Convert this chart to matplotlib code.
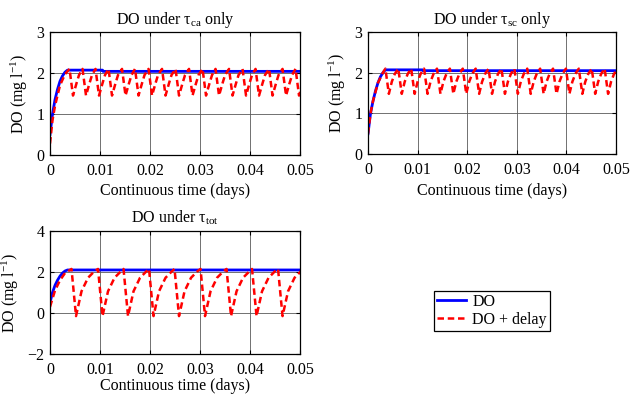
import matplotlib
matplotlib.use('Agg')
import matplotlib.pyplot as plt
from matplotlib.ticker import FuncFormatter

plt.rcParams['font.family'] = ['Liberation Serif', 'DejaVu Serif']
plt.rcParams['mathtext.fontset'] = 'custom'
plt.rcParams['mathtext.rm'] = 'Liberation Serif'
plt.rcParams['font.size'] = 11.5

# ---- tau_ca only ----
ca_do_t = [0, 0.0005, 0.001, 0.0015, 0.002, 0.0025, 0.003, 0.0035, 0.0105, 0.0106, 0.05]
ca_do_v = [0.5, 1.0, 1.35, 1.6, 1.8, 1.93, 2.02, 2.07, 2.07, 2.04, 2.04]
ca_start_t = [0, 0.0005, 0.001, 0.002, 0.003]
ca_start_v = [0.28, 0.85, 1.2, 1.7, 1.97]
ca_peaks = [0.0039, 0.0065, 0.0091, 0.0117, 0.0144, 0.0170, 0.0197, 0.0224, 0.0251,
            0.0278, 0.0305, 0.0331, 0.0358, 0.0385, 0.0411, 0.0438, 0.0465, 0.0491]
ca_cycle_dt = [0, 0.0007, 0.0014, 0.0019]
ca_cycle_v = [2.1, 1.45, 1.75, 1.95]

# ---- tau_sc only ----
sc_do_t = [0, 0.0005, 0.001, 0.0015, 0.002, 0.0025, 0.003, 0.0035, 0.011, 0.0111, 0.05]
sc_do_v = [0.5, 1.0, 1.3, 1.55, 1.75, 1.9, 2.0, 2.07, 2.07, 2.05, 2.05]
sc_start_t = [0, 0.0005, 0.001, 0.002, 0.003]
sc_start_v = [0.5, 1.0, 1.3, 1.75, 2.0]
sc_peaks = [0.0035, 0.0061, 0.0087, 0.0113, 0.0139, 0.0165, 0.0191, 0.0217, 0.0243,
            0.0269, 0.0295, 0.0321, 0.0347, 0.0373, 0.0399, 0.0425, 0.0451, 0.0477, 0.0503]
sc_cycle_dt = [0, 0.0007, 0.0013, 0.0019]
sc_cycle_v = [2.1, 1.48, 1.78, 1.97]

# ---- tau_tot ----
tot_do_t = [0, 0.0005, 0.001, 0.0015, 0.002, 0.0025, 0.003, 0.0035, 0.05]
tot_do_v = [0.5, 1.0, 1.35, 1.6, 1.8, 1.95, 2.05, 2.1, 2.1]
tot_start_t = [0, 0.001, 0.002, 0.003]
tot_start_v = [0.3, 1.1, 1.6, 1.95]
tot_peaks = [0.0043, 0.0096, 0.0147, 0.0198, 0.0249, 0.0301, 0.0353, 0.0404, 0.0456, 0.0508]
tot_cycle_dt = [0, 0.0009, 0.002, 0.0033, 0.0046]
tot_cycle_v = [2.15, -0.15, 1.06, 1.72, 2.04]


def delay_curve(start_t, start_v, peaks, dt, vals):
    t = list(start_t)
    v = list(start_v)
    for p in peaks:
        for d, y in zip(dt, vals):
            t.append(p + d)
            v.append(y)
    return t, v


def fmt(x, pos):
    if abs(x) < 1e-12:
        return '0'
    return ('%g' % x).replace('-', '\u2212')


fig = plt.figure(figsize=(6.33, 3.96), dpi=100)
ax1 = fig.add_axes([0.079, 0.6086, 0.395, 0.3106])
ax2 = fig.add_axes([0.5814, 0.6111, 0.3918, 0.308])
ax3 = fig.add_axes([0.079, 0.106, 0.395, 0.3106])

panels = [
    (ax1, ca_do_t, ca_do_v, delay_curve(ca_start_t, ca_start_v, ca_peaks, ca_cycle_dt, ca_cycle_v),
     r'DO under $\mathregular{\tau_{ca}}$ only', (0, 3), [0, 1, 2, 3], 3),
    (ax2, sc_do_t, sc_do_v, delay_curve(sc_start_t, sc_start_v, sc_peaks, sc_cycle_dt, sc_cycle_v),
     r'DO under $\mathregular{\tau_{sc}}$ only', (0, 3), [0, 1, 2, 3], 3),
    (ax3, tot_do_t, tot_do_v, delay_curve(tot_start_t, tot_start_v, tot_peaks, tot_cycle_dt, tot_cycle_v),
     r'DO under $\mathregular{\tau_{tot}}$', (-2, 4), [-2, 0, 2, 4], 0),
]

for ax, bt, bv, (rt, rv), title, ylim, yticks, xpad in panels:
    l1, = ax.plot(bt, bv, color='#0000ff', lw=2, label='DO')
    l2, = ax.plot(rt, rv, color='#ff0000', lw=1.8, dashes=(2.6, 1.5), label='DO + delay')
    ax.set_xlim(0, 0.05)
    ax.set_ylim(*ylim)
    ax.set_xticks([0, 0.01, 0.02, 0.03, 0.04, 0.05])
    ax.set_yticks(yticks)
    ax.xaxis.set_major_formatter(FuncFormatter(fmt))
    ax.yaxis.set_major_formatter(FuncFormatter(fmt))
    ax.grid(True, color='0.35', lw=0.6)
    ax.tick_params(direction='in', top=True, right=True, length=3, labelsize=11.5)
    ax.tick_params(axis='x', pad=6)
    ax.tick_params(axis='y', pad=4)
    for s in ax.spines.values():
        s.set_linewidth(0.9)
    ax.set_title(title, fontsize=11.5, pad=6)
    ax.set_xlabel('Continuous time (days)', fontsize=11.5, labelpad=xpad)
    ax.set_ylabel(r'DO (mg l$\mathregular{^{-1}}$)', fontsize=11.5, labelpad=5)

leg = fig.legend([l1, l2], ['DO', 'DO + delay'], loc='center',
                 bbox_to_anchor=(0.777, 0.2154), fancybox=False, edgecolor='black',
                 framealpha=1, fontsize=11.5, handlelength=1.8, borderpad=0.2,
                 labelspacing=0.1, handletextpad=0.4, borderaxespad=0)
leg.get_frame().set_linewidth(0.9)

fig.savefig('out.png', dpi=100)
